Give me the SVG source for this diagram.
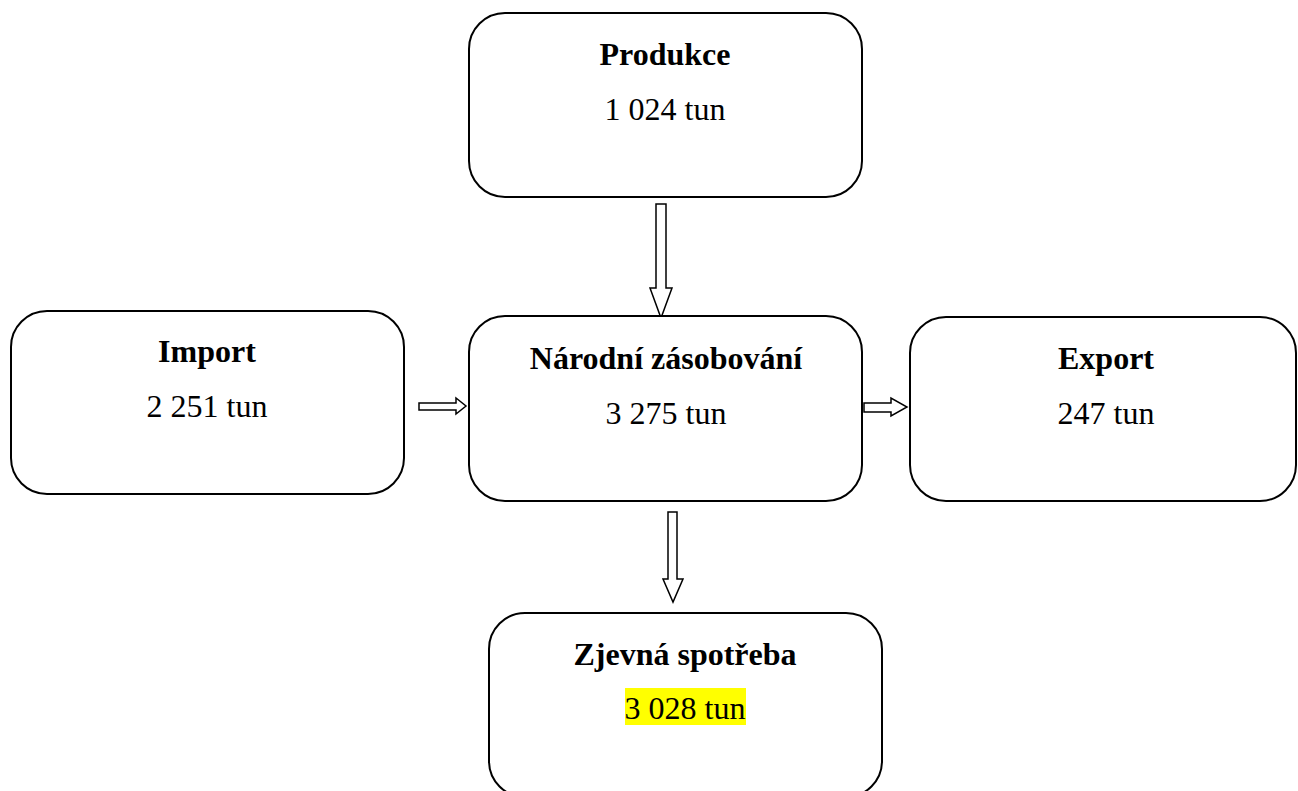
<svg xmlns="http://www.w3.org/2000/svg" width="1298" height="791" viewBox="0 0 1298 791">
<style>
.box{fill:#fff;stroke:#000;stroke-width:2}
.t{font-family:"Liberation Serif","Times New Roman",serif;font-size:32px;fill:#000;text-anchor:middle}
.b{font-weight:bold}
.arr{fill:#fff;stroke:#000;stroke-width:1.5;stroke-linejoin:miter}
</style>
<rect width="1298" height="791" fill="#fff"/>
<g id="connectors">
<polygon class="arr" points="656,204 666,204 666,288 672,288 661,318 650,288 656,288"/>
<polygon class="arr" points="419,403 456,403 456,398 466,406 456,414 456,410 419,410"/>
<polygon class="arr" points="864,403 891,403 891,398 907,407 891,416 891,412 864,412"/>
<polygon class="arr" points="668,512 677,512 677,579 683,579 673,602 663,579 668,579"/>
</g>
<g id="produkce">
<rect class="box" x="469" y="13" width="393" height="184" rx="36"/>
<text class="t b" x="665" y="65">Produkce</text>
<text class="t" x="665" y="120">1 024 tun</text>
</g>
<g id="import">
<rect class="box" x="11" y="311" width="393" height="183" rx="36"/>
<text class="t b" x="207" y="362">Import</text>
<text class="t" x="207" y="417">2 251 tun</text>
</g>
<g id="narodni">
<rect class="box" x="469" y="316" width="393" height="185" rx="36"/>
<text class="t b" x="666" y="369">Národní zásobování</text>
<text class="t" x="666" y="424">3 275 tun</text>
</g>
<g id="export">
<rect class="box" x="910" y="317" width="386" height="184" rx="36"/>
<text class="t b" x="1106" y="369">Export</text>
<text class="t" x="1106" y="424">247 tun</text>
</g>
<g id="zjevna">
<rect class="box" x="489" y="613" width="393" height="184" rx="36"/>
<text class="t b" x="685" y="665">Zjevná spotřeba</text>
<rect x="625" y="688" width="121" height="37" fill="#ffff00"/>
<text class="t" x="685" y="719">3 028 tun</text>
</g>
</svg>
